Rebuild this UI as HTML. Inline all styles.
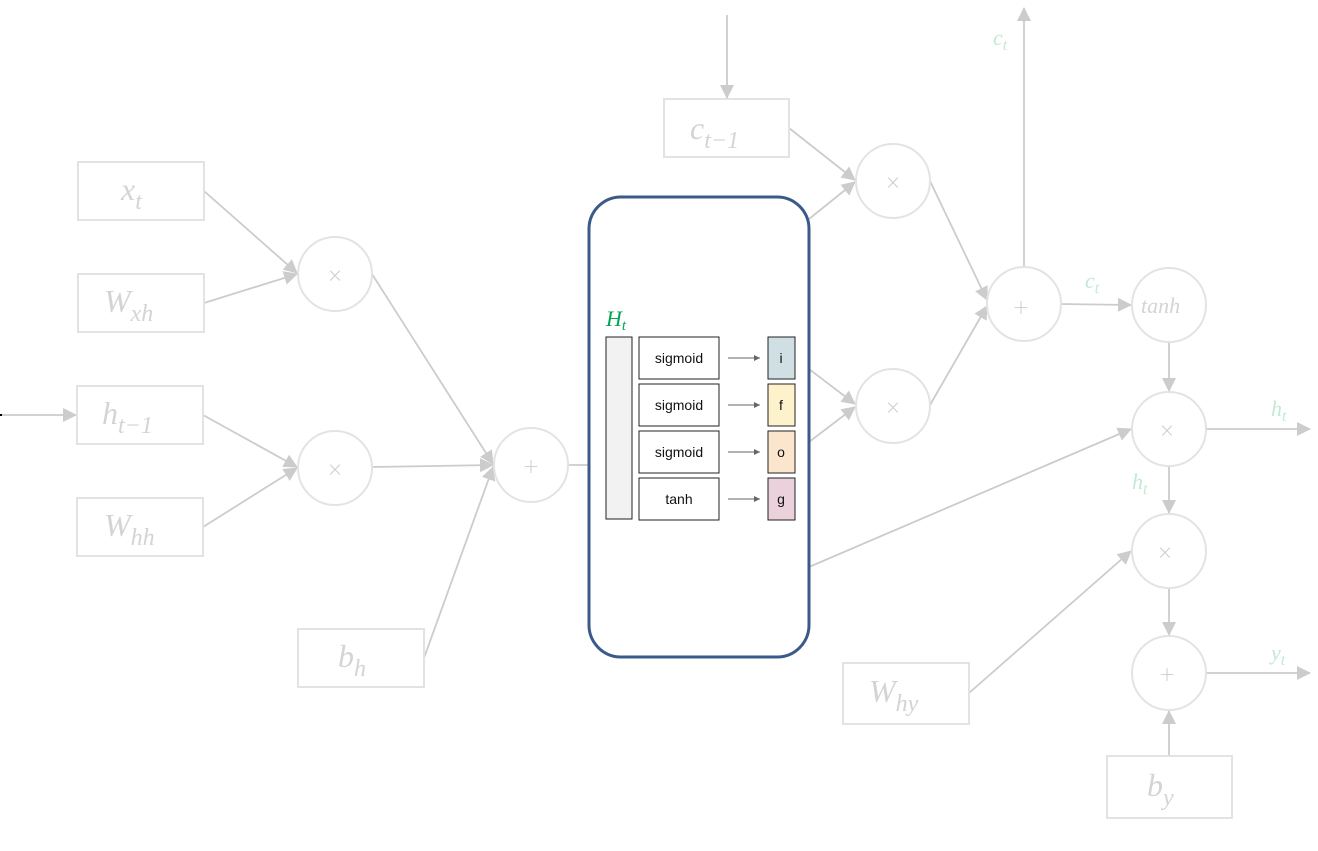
<!DOCTYPE html>
<html><head><meta charset="utf-8"><style>
html,body{margin:0;padding:0;background:#fff;}
svg{display:block;}
.bx{fill:#fff;stroke:#e3e3e3;stroke-width:2;}
.ci{fill:#fff;stroke:#e3e3e3;stroke-width:2;}
.ln{stroke:#cccccc;stroke-width:1.8;fill:none;}
.lt{font-family:"Liberation Serif",serif;font-style:italic;fill:#d4d4d4;font-size:32px;}
.sb{font-size:24px;}
.op{font-family:"DejaVu Sans",sans-serif;fill:#cccccc;font-size:20px;text-anchor:middle;font-weight:200;}
.gl{font-family:"Liberation Serif",serif;font-style:italic;fill:#c3e9d3;font-size:22px;}
.gs{font-size:16px;}
.in{fill:#fff;stroke:#222;stroke-width:1;}
.it{font-family:"Liberation Sans",sans-serif;font-size:14px;fill:#111;text-anchor:middle;}
</style></head><body>
<svg width="1318" height="851" viewBox="0 0 1318 851" xmlns="http://www.w3.org/2000/svg">
<defs>
<marker id="A" markerWidth="14" markerHeight="14" refX="13" refY="7" orient="auto" markerUnits="userSpaceOnUse">
<path d="M0,0 L14,7 L0,14 z" fill="#cccccc"/>
</marker>
<marker id="s" markerWidth="6" markerHeight="6" refX="6" refY="3" orient="auto" markerUnits="userSpaceOnUse">
<path d="M0,0 L6,3 L0,6 z" fill="#666"/>
</marker>
</defs>

<g class="ln">
<line x1="0" y1="415" x2="76" y2="415" marker-end="url(#A)"/>
<line x1="204" y1="191" x2="297" y2="273" marker-end="url(#A)"/>
<line x1="204" y1="303" x2="297" y2="274" marker-end="url(#A)"/>
<line x1="203" y1="415" x2="297" y2="467" marker-end="url(#A)"/>
<line x1="203" y1="527" x2="297" y2="468" marker-end="url(#A)"/>
<line x1="372" y1="274" x2="493" y2="464" marker-end="url(#A)"/>
<line x1="372" y1="467" x2="493" y2="465" marker-end="url(#A)"/>
<line x1="424" y1="658" x2="493" y2="467" marker-end="url(#A)"/>
<line x1="568" y1="465" x2="590" y2="465"/>
<line x1="727" y1="15" x2="727" y2="98" marker-end="url(#A)"/>
<line x1="789" y1="128" x2="855" y2="180" marker-end="url(#A)"/>
<line x1="809" y1="219" x2="855" y2="182" marker-end="url(#A)"/>
<line x1="809" y1="369" x2="855" y2="404" marker-end="url(#A)"/>
<line x1="809" y1="442" x2="855" y2="407" marker-end="url(#A)"/>
<line x1="930" y1="181" x2="987" y2="300" marker-end="url(#A)"/>
<line x1="930" y1="405" x2="987" y2="306" marker-end="url(#A)"/>
<line x1="1024" y1="267" x2="1024" y2="8" marker-end="url(#A)"/>
<line x1="1061" y1="304" x2="1131" y2="305" marker-end="url(#A)"/>
<line x1="1169" y1="343" x2="1169" y2="391" marker-end="url(#A)"/>
<line x1="809" y1="567" x2="1131" y2="429" marker-end="url(#A)"/>
<line x1="1206" y1="429" x2="1310" y2="429" marker-end="url(#A)"/>
<line x1="1169" y1="466" x2="1169" y2="513" marker-end="url(#A)"/>
<line x1="969" y1="693" x2="1131" y2="551" marker-end="url(#A)"/>
<line x1="1169" y1="588" x2="1169" y2="635" marker-end="url(#A)"/>
<line x1="1169" y1="756" x2="1169" y2="711" marker-end="url(#A)"/>
<line x1="1206" y1="673" x2="1310" y2="673" marker-end="url(#A)"/>
</g>
<rect x="0" y="414" width="2" height="2" fill="#000"/>

<rect class="bx" x="78" y="162" width="126" height="58"/>
<text class="lt" x="121" y="200">x<tspan class="sb" dy="9">t</tspan></text>
<rect class="bx" x="78" y="274" width="126" height="58"/>
<text class="lt" x="104" y="312">W<tspan class="sb" dy="9">xh</tspan></text>
<rect class="bx" x="77" y="386" width="126" height="58"/>
<text class="lt" x="102" y="424">h<tspan class="sb" dy="9">t−1</tspan></text>
<rect class="bx" x="77" y="498" width="126" height="58"/>
<text class="lt" x="104" y="536">W<tspan class="sb" dy="9">hh</tspan></text>
<rect class="bx" x="298" y="629" width="126" height="58"/>
<text class="lt" x="338" y="667">b<tspan class="sb" dy="9">h</tspan></text>
<rect class="bx" x="664" y="99" width="125" height="58"/>
<text class="lt" x="690" y="139">c<tspan class="sb" dy="9">t−1</tspan></text>
<rect class="bx" x="843" y="663" width="126" height="61"/>
<text class="lt" x="869" y="702">W<tspan class="sb" dy="9">hy</tspan></text>
<rect class="bx" x="1107" y="756" width="125" height="62"/>
<text class="lt" x="1147" y="796">b<tspan class="sb" dy="9">y</tspan></text>

<circle class="ci" cx="335" cy="274" r="37"/><text class="op" x="335" y="282">×</text>
<circle class="ci" cx="335" cy="468" r="37"/><text class="op" x="335" y="476">×</text>
<circle class="ci" cx="531" cy="465" r="37"/><text class="op" x="531" y="473">+</text>
<circle class="ci" cx="893" cy="181" r="37"/><text class="op" x="893" y="189">×</text>
<circle class="ci" cx="893" cy="406" r="37"/><text class="op" x="893" y="414">×</text>
<circle class="ci" cx="1024" cy="304" r="37"/><text class="op" x="1021" y="314">+</text>
<circle class="ci" cx="1169" cy="305" r="37"/><text class="lt" x="1141" y="313" style="font-size:22px">tanh</text>
<circle class="ci" cx="1169" cy="429" r="37"/><text class="op" x="1167" y="437">×</text>
<circle class="ci" cx="1169" cy="551" r="37"/><text class="op" x="1165" y="559">×</text>
<circle class="ci" cx="1169" cy="673" r="37"/><text class="op" x="1167" y="681">+</text>

<text class="gl" x="993" y="45">c<tspan class="gs" dy="5">t</tspan></text>
<text class="gl" x="1085" y="288">c<tspan class="gs" dy="5">t</tspan></text>
<text class="gl" x="1271" y="416">h<tspan class="gs" dy="5">t</tspan></text>
<text class="gl" x="1132" y="489">h<tspan class="gs" dy="5">t</tspan></text>
<text class="gl" x="1271" y="660">y<tspan class="gs" dy="5">t</tspan></text>

<rect x="589" y="197" width="220" height="460" rx="32" fill="#fff" stroke="#3a5a8a" stroke-width="3"/>
<text x="606" y="326" style="font-family:'Liberation Serif',serif;font-style:italic;font-size:22px;fill:#00a651">H<tspan style="font-size:15px" dy="4">t</tspan></text>
<rect x="606" y="337" width="26" height="182" fill="#f2f2f2" stroke="#222" stroke-width="1"/>
<rect class="in" x="639" y="337" width="80" height="42"/><text class="it" x="679" y="363">sigmoid</text>
<rect class="in" x="639" y="384" width="80" height="42"/><text class="it" x="679" y="410">sigmoid</text>
<rect class="in" x="639" y="431" width="80" height="42"/><text class="it" x="679" y="457">sigmoid</text>
<rect class="in" x="639" y="478" width="80" height="42"/><text class="it" x="679" y="504">tanh</text>
<g stroke="#666" stroke-width="1">
<line x1="728" y1="358" x2="760" y2="358" marker-end="url(#s)"/>
<line x1="728" y1="405" x2="760" y2="405" marker-end="url(#s)"/>
<line x1="728" y1="452" x2="760" y2="452" marker-end="url(#s)"/>
<line x1="728" y1="499" x2="760" y2="499" marker-end="url(#s)"/>
</g>
<rect x="768" y="337" width="27" height="42" fill="#d0dfe3" stroke="#222"/><text class="it" x="781" y="363">i</text>
<rect x="768" y="384" width="27" height="42" fill="#fdf2cc" stroke="#222"/><text class="it" x="781" y="410">f</text>
<rect x="768" y="431" width="27" height="42" fill="#fbe5cc" stroke="#222"/><text class="it" x="781" y="457">o</text>
<rect x="768" y="478" width="27" height="42" fill="#ead1dc" stroke="#222"/><text class="it" x="781" y="504">g</text>
</svg>
</body></html>
